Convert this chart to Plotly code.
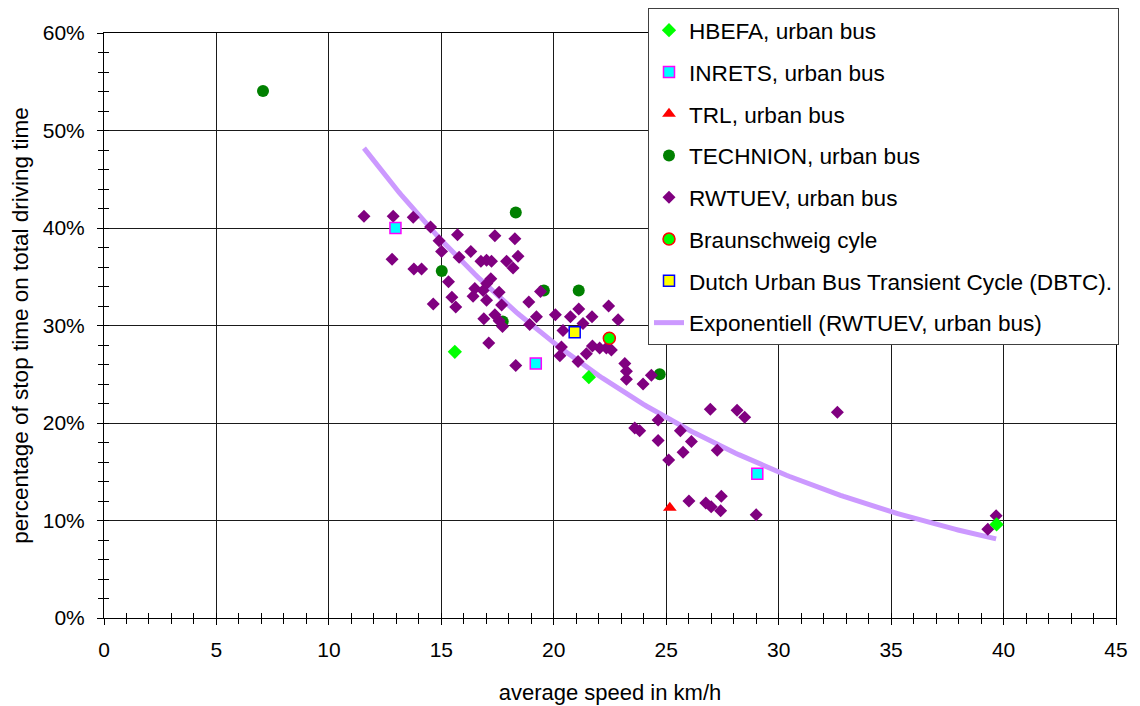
import numpy as np
import plotly.graph_objects as go

# average speed (km/h) and share of stop time (%) per data source
hbefa_speed = [15.6, 21.56, 39.69]
hbefa_stop = [27.3, 24.7, 9.6]

inrets_speed = [12.96, 19.2, 29.05]
inrets_stop = [40.0, 26.1, 14.8]

trl_speed = [25.16]
trl_stop = [11.3]

technion_speed = [7.07, 15.02, 17.73, 18.31, 19.56, 21.11, 24.71]
technion_stop = [54.05, 35.6, 30.4, 41.6, 33.6, 33.6, 25.0]

rwtuev_speed = [
    11.56, 12.86, 13.75, 14.52, 15.72, 17.38, 18.27, 14.90, 15.01, 16.31,
    15.79, 16.76, 17.01, 17.23, 17.90, 18.41, 18.19, 12.81, 13.78, 14.12,
    15.32, 17.20, 16.49, 16.41, 16.86, 17.01, 17.57, 17.68, 15.47, 15.64,
    14.64, 18.89, 19.23, 16.89, 17.38, 17.57, 17.72, 18.93, 17.11, 18.31,
    17.02, 19.41, 22.44, 21.11, 20.07, 20.74, 21.70, 22.86, 21.30, 20.41,
    21.72, 22.04, 22.34, 22.56, 21.45, 20.34, 20.27, 21.08, 23.16, 23.23,
    23.23, 23.97, 24.34, 23.60, 23.82, 24.64, 24.64, 25.63, 26.12, 25.75,
    25.11, 26.96, 28.15, 28.49, 32.61, 27.27, 26.01, 26.76, 27.00, 27.45,
    27.42, 29.00, 39.67, 39.30,
]
rwtuev_stop = [
    41.2, 41.2, 41.1, 40.1, 39.3, 39.2, 38.9, 38.7, 37.6, 37.6,
    37.0, 36.6, 36.7, 36.6, 36.6, 37.1, 35.9, 36.8, 35.8, 35.8,
    34.5, 34.8, 33.8, 33.0, 33.6, 32.6, 33.4, 32.1, 32.9, 31.9,
    32.2, 32.4, 30.9, 30.7, 31.1, 30.5, 29.9, 30.1, 28.2, 25.9,
    34.3, 33.5, 32.0, 31.7, 31.1, 30.9, 30.9, 30.6, 30.2, 29.5,
    27.9, 27.7, 27.7, 27.5, 27.1, 27.8, 26.9, 26.3, 26.1, 25.3,
    24.5, 24.0, 24.9, 19.5, 19.2, 20.3, 18.2, 19.2, 18.1, 17.0,
    16.2, 21.4, 21.3, 20.6, 21.1, 17.2, 12.0, 11.8, 11.4, 12.5,
    11.0, 10.6, 10.5, 9.1,
]

braunschweig_speed = [22.47]
braunschweig_stop = [28.7]

dbtc_speed = [20.93]
dbtc_stop = [29.3]

x_ticks = [0, 5, 10, 15, 20, 25, 30, 35, 40, 45]
y_ticks = [0, 10, 20, 30, 40, 50, 60]

# exponential trendline of the RWTUEV series: stop% = a * exp(b * speed)
trend_a = 100.3
trend_b = -0.0634
trend_x = np.linspace(min(rwtuev_speed), max(rwtuev_speed), 200)
trend_y = trend_a * np.exp(trend_b * trend_x)

FONT = "Liberation Sans, Arial, sans-serif"

fig = go.Figure()

fig.add_trace(go.Scatter(
    x=trend_x, y=trend_y, mode="lines", name="Exponentiell (RWTUEV, urban bus)",
    line=dict(color="#CC99FF", width=5), legendrank=8, legendgroup="g8",
))
fig.add_trace(go.Scatter(
    x=technion_speed, y=technion_stop, mode="markers", name="TECHNION, urban bus",
    marker=dict(symbol="circle", size=12, color="#008000"),
    legendrank=4, legendgroup="g4",
))
fig.add_trace(go.Scatter(
    x=rwtuev_speed, y=rwtuev_stop, mode="markers", name="RWTUEV, urban bus",
    marker=dict(symbol="diamond", size=10, color="#800080"),
    legendrank=5, legendgroup="g5",
))
fig.add_trace(go.Scatter(
    x=hbefa_speed, y=hbefa_stop, mode="markers", name="HBEFA, urban bus",
    marker=dict(symbol="diamond", size=11, color="#00FF00"),
    legendrank=1, legendgroup="g1",
))
fig.add_trace(go.Scatter(
    x=inrets_speed, y=inrets_stop, mode="markers", name="INRETS, urban bus",
    marker=dict(symbol="square", size=11, color="#00FFFF",
                line=dict(color="#FF00FF", width=1.5)),
    legendrank=2, legendgroup="g2",
))
fig.add_trace(go.Scatter(
    x=trl_speed, y=trl_stop, mode="markers", name="TRL, urban bus",
    marker=dict(symbol="triangle-up", size=12, color="#FF0000"),
    legendrank=3, legendgroup="g3",
))
fig.add_trace(go.Scatter(
    x=braunschweig_speed, y=braunschweig_stop, mode="markers", name="Braunschweig cyle",
    marker=dict(symbol="circle", size=12, color="#00FF00",
                line=dict(color="#FF0000", width=1.5)),
    legendrank=6, legendgroup="g6",
))
fig.add_trace(go.Scatter(
    x=dbtc_speed, y=dbtc_stop, mode="markers",
    name="Dutch Urban Bus Transient Cycle (DBTC).",
    marker=dict(symbol="square", size=11, color="#FFFF00",
                line=dict(color="#0000FF", width=1.5)),
    legendrank=7, legendgroup="g7",
))
# overlay axes carrying the inner half of the small tick marks
fig.add_trace(go.Scatter(x=[None], y=[None], xaxis="x2", yaxis="y2",
                         showlegend=False, hoverinfo="skip"))

axis_common = dict(
    showgrid=True, gridcolor="#1a1a1a", gridwidth=1,
    zeroline=False, showline=True, linecolor="#000000", linewidth=1,
    mirror=True, ticks="outside", ticklen=6, tickcolor="#000000",
    tickfont=dict(family=FONT, size=21, color="#000000"),
    automargin=False,
)

fig.update_layout(
    width=1140, height=706,
    paper_bgcolor="#FFFFFF", plot_bgcolor="#FFFFFF",
    margin=dict(l=104, r=24, t=33, b=88, autoexpand=False),
    font=dict(family=FONT, color="#000000"),
    xaxis=dict(
        range=[0, 45], tickvals=x_ticks, ticktext=[str(v) for v in x_ticks],
        minor=dict(dtick=1, ticks="outside", ticklen=5, tickcolor="#000000", showgrid=False),
        ticklabelstandoff=7,
        title=dict(text="average speed in km/h", font=dict(family=FONT, size=22), standoff=24),
        **axis_common,
    ),
    yaxis=dict(
        range=[0, 60], tickvals=y_ticks, ticktext=[f"{v}%" for v in y_ticks],
        minor=dict(dtick=2, ticks="outside", ticklen=5, tickcolor="#000000", showgrid=False),
        ticklabelstandoff=8,
        title=dict(text="percentage of stop time on total driving time",
                   font=dict(family=FONT, size=22.5), standoff=7),
        **axis_common,
    ),
    xaxis2=dict(overlaying="x", matches="x", anchor="y2", showgrid=False, zeroline=False,
                showticklabels=False, tickmode="linear", tick0=0, dtick=1,
                ticks="inside", ticklen=5, tickcolor="#000000"),
    yaxis2=dict(overlaying="y", matches="y", anchor="x2", showgrid=False, zeroline=False,
                showticklabels=False, tickmode="linear", tick0=0, dtick=2,
                ticks="inside", ticklen=5, tickcolor="#000000"),
    legend=dict(
        xref="container", yref="container",
        x=648 / 1140, y=1 - 8 / 706, xanchor="left", yanchor="top",
        bgcolor="#FFFFFF", bordercolor="#404040", borderwidth=1,
        font=dict(family=FONT, size=22.6, color="#000000"),
        tracegroupgap=9.4, itemwidth=30,
    ),
    showlegend=True,
)

fig.write_html("out.html")
